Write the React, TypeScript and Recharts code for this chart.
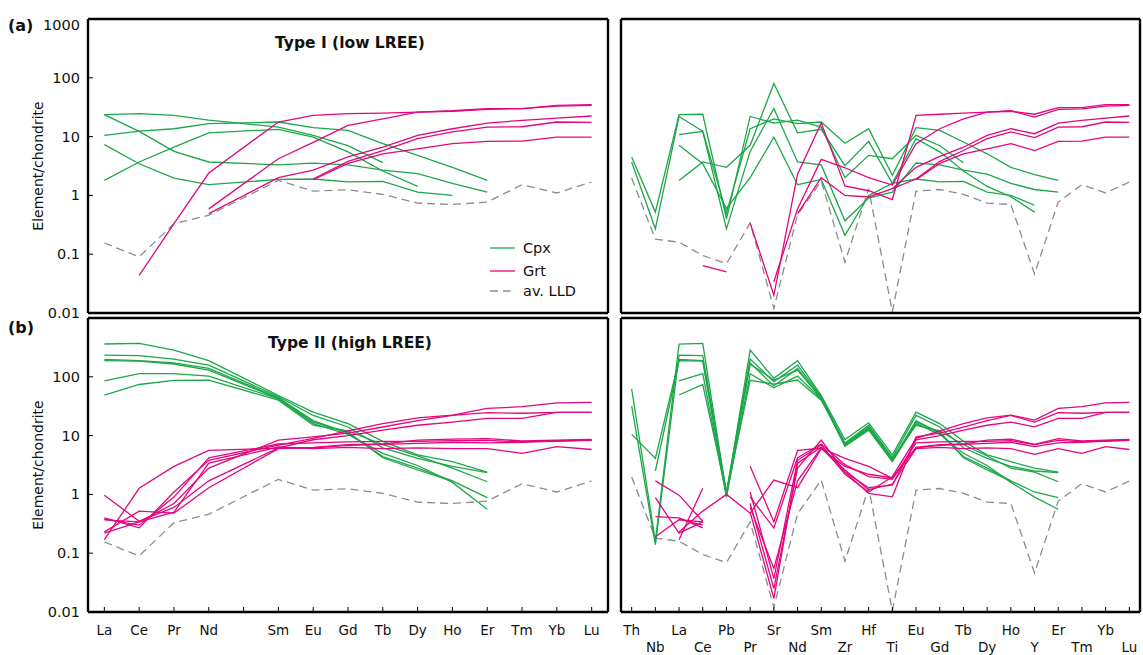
import { LineChart, Line, XAxis, YAxis } from "recharts";

const FONT = '"DejaVu Sans", Verdana, sans-serif';
const GREEN = "#1ca74a";
const PINK = "#e2077e";
const GREY = "#8c8c8c";
const INK = "#111111";

type V = number | null;
type Row = Record<string, V>;

// categories (Pm is left blank on the REE axis)
const reeLabels = ["La", "Ce", "Pr", "Nd", "", "Sm", "Eu", "Gd", "Tb", "Dy", "Ho", "Er", "Tm", "Yb", "Lu"];
const traceLabels = ["Th", "Nb", "La", "Ce", "Pb", "Pr", "Sr", "Nd", "Sm", "Zr", "Hf", "Ti", "Eu", "Gd", "Tb", "Dy", "Ho", "Y", "Er", "Tm", "Yb", "Lu"];
const yTicks = [0.01, 0.1, 1, 10, 100, 1000];

// average LLD, same in every panel
const lldRee: V[] = [0.155, 0.09, 0.33, 0.46, null, 1.8, 1.18, 1.25, 1.04, 0.74, 0.7, 0.77, 1.52, 1.1, 1.69];
const lldTrace: V[] = [1.97, 0.18, 0.16, 0.095, 0.069, 0.34, 0.012, 0.47, 1.75, 0.073, 1.3, 0.0105, 1.18, 1.26, 1.04, 0.74, 0.7, 0.046, 0.77, 1.52, 1.1, 1.69];

// (a) Type I, REE
const cpxReeA: V[][] = [
  [23.6, 24.5, 23, 19, null, 14.5, 10.5, 7.0, 3.6, null, null, null, null, null, null],
  [23.6, 12.3, 5.6, 3.7, null, 3.3, 3.55, 3.3, 2.7, 2.35, 1.6, 1.14, null, null, null],
  [10.5, 12.4, 13.6, 16.6, null, 17.7, 14.2, 12.8, 7.6, 4.8, 3.0, 1.8, null, null, null],
  [7.3, 3.45, 1.97, 1.52, null, 1.87, 1.9, 1.7, 1.73, 1.14, 1.0, null, null, null, null],
  [1.8, 3.7, 6.6, 11.6, null, 13.3, 9.8, 5.5, 2.6, 1.42, null, null, null, null, null],
];
const grtReeA: V[][] = [
  [null, 0.0435, 0.33, 2.4, null, 17.7, 23, 24.5, 25, 26, 27.5, 30, 30, 34, 35],
  [null, null, null, 0.59, null, 4.2, 8, 15.5, 20, 26, 27, 29, 30, 33, 34],
  [null, null, null, 0.49, null, 2.0, 2.7, 4.5, 6.6, 10.5, 13.6, 17, 18.9, 20.6, 22.4],
  [null, null, null, null, null, null, 1.9, 3.8, 5.8, 9.2, 12, 14.5, 14.7, 17.7, 17.5],
  [null, null, null, null, null, null, 1.85, 3.5, 5.1, 6.2, 7.6, 8.3, 8.4, 9.8, 9.8],
];

// (a) Type I, trace elements
const cpxTraceA: V[][] = [
  [4.5, 0.52, 23.6, 24, 0.4, 22, 17, 19, 14.5, 2.0, 4.8, 4.2, 10.5, 7.0, 3.6, null, null, null, null, null, null, null],
  [3.7, 0.27, 22, 12.3, 0.27, 5.6, 30, 3.7, 3.3, 0.37, 0.9, 1.14, 3.55, 3.3, 2.7, 2.3, 1.6, 1.26, 1.14, null, null, null],
  [null, null, 10.8, 12.3, 0.5, 13.6, 20, 16.6, 17.7, 7.7, 13.6, 2.2, 14.2, 12.8, 8.1, 5.1, 3.0, 2.25, 1.8, null, null, null],
  [null, null, 7.1, 3.45, 0.6, 2.0, 9.8, 1.52, 1.87, 0.21, 1.0, 1.6, 1.9, 1.7, 1.73, 1.14, 1.0, 0.68, null, null, null, null],
  [null, null, 1.8, 3.7, 3.0, 7.1, 80, 11.6, 13.3, 3.2, 8.3, 1.6, 9.2, 5.5, 2.6, 1.42, 0.95, 0.52, null, null, null, null],
];
const grtTraceA: V[][] = [
  [null, null, null, 0.064, 0.05, null, null, null, null, null, null, null, null, null, null, null, null, null, null, null, null, null],
  [null, null, null, null, null, 0.34, 0.02, 2.3, 17, 1.45, 1.2, 0.85, 23, 24, 25, 26, 27, 24, 31, 31, 35, 35],
  [null, null, null, null, null, null, 0.034, 0.59, 4.1, 2.95, 2.0, 1.5, 7.6, 13.6, 20, 26, 27.5, 21.5, 29, 29.5, 33, 34],
  [null, null, null, null, null, null, null, 0.49, 2.0, 1.0, 0.94, 1.3, 3.0, 4.6, 6.6, 10.5, 13.6, 11.2, 17, 18.9, 20.6, 22.4],
  [null, null, null, null, null, null, null, null, null, null, null, 1.3, 1.9, 3.8, 5.8, 9.2, 12, 9.6, 14.5, 14.7, 17.7, 17.5],
  [null, null, null, null, null, null, null, null, null, null, null, null, 1.85, 3.5, 5.1, 6.2, 7.6, 5.8, 8.3, 8.4, 9.8, 9.8],
];

// (b) Type II, trace elements (REE panel is taken from these)
const cpxTraceB: V[][] = [
  [62, 0.16, 361, 370, 1.0, 285, 94, 188, 48, 8.6, 16.5, 4.7, 25, 16, 8, 4.7, 3.6, 2.8, 2.4, null, null, null],
  [32, 0.14, 234, 229, 1.1, 200, 83, 158, 46, 7.5, 15, 4.2, 22, 14, 6.2, 4.1, 3.0, 2.5, 2.35, null, null, null],
  [10.5, 4.1, 198, 188, 0.95, 172, 70, 139, 44, 6.8, 13, 3.8, 18, 11, 4.4, 2.8, 1.7, 1.1, 0.88, null, null, null],
  [null, 2.5, 188, 185, 1.0, 165, 88, 130, 43, 7.0, 13.5, 3.7, 17, 11.5, 4.2, 2.6, 1.68, null, null, null, null, null],
  [null, null, 85, 113, 0.9, 113, 65, 103, 42, 6.6, 12.4, 3.6, 16, 10.5, 5, 3.1, 1.6, 0.9, 0.56, null, null, null],
  [null, null, 49, 74, 1.05, 87, 75, 88, 40, 7.2, 14, 4.0, 15, 12, 7, 4.5, 2.8, 2.4, 1.64, null, null, null],
];
const grtTraceB: V[][] = [
  [null, null, 0.17, 1.27, null, 3.0, 0.34, 5.6, 6.1, 4.1, 3.0, 1.87, 6.3, 7.0, 7.2, 8.4, 8.7, 7.1, 8.9, 8.1, 8.4, 8.6],
  [null, 1.7, 0.97, 0.35, null, 0.6, 0.055, 1.7, 6.2, 2.4, 1.3, 1.44, 8.5, 10, 12.4, 15, 17, 14.1, 19.6, 19.6, 24.8, 24.8],
  [null, 0.42, 0.4, 0.27, null, 1.1, 0.037, 3.8, 6.9, 2.2, 1.1, 2.0, 9, 12, 16, 20, 22.3, 18.4, 29, 31, 36, 36.7],
  [null, 0.19, 0.37, 0.34, null, 0.7, 0.025, 2.8, 8.4, 2.4, 1.04, 0.91, 9.5, 11, 14, 18, 22, 17, 24.5, 24, 24.8, 24.8],
  [null, null, 0.23, 0.52, 1.0, 0.48, 1.75, 1.3, 6.0, 3.0, 2.2, 1.9, 6.2, 6.8, 7.1, 7.4, 7.7, 6.5, 7.5, 7.7, 8.2, 8.4],
  [null, 0.88, 0.22, 0.34, null, 0.5, 0.017, 3.4, 6.4, 2.6, 1.2, 1.5, 6.0, 6.3, 6.0, 6.2, 6.0, 4.8, 6.0, 5.0, 6.5, 5.8],
  [null, null, 0.38, 0.3, null, 0.9, 0.27, 4.2, 7.2, 3.2, 2.0, 1.8, 7.5, 7.8, 8.0, 8.0, 8.2, 7.0, 8.3, 7.8, 8.0, 8.3],
];

const toRee = (vals: V[]): V[] =>
  reeLabels.map((l) => (l ? vals[traceLabels.indexOf(l)] ?? null : null));

const frame = { stroke: "#000", strokeWidth: 2.4 };
const tickMark = { stroke: "#000", strokeWidth: 1 };

function XTick(props: any) {
  const { x, y, payload, labels, stagger } = props;
  const i = Math.round(payload.value);
  const dy = stagger && i % 2 === 1 ? 17 : 0;
  return (
    <text x={x} y={y + 10 + dy} textAnchor="middle" fontSize={13.5} fontFamily={FONT} fill={INK}>
      {labels[i]}
    </text>
  );
}

function YTick(props: any) {
  const { x, y, payload, hideTop } = props;
  const v = payload.value;
  if (hideTop && v === 1000) return <g />;
  const shift = v === 1000 ? 6 : 0;
  return (
    <text x={x} y={y + 5 + shift} textAnchor="end" fontSize={14.5} fontFamily={FONT} fill={INK}>
      {String(v)}
    </text>
  );
}

interface PanelProps {
  labels: string[];
  lld: V[];
  cpx: V[][];
  grt: V[][];
  pad: number;
  width: number;
  height: number;
  margin: { top: number; right: number; bottom: number; left: number };
  yLabels: "all" | "noTop" | "none";
  xLabels: boolean;
  stagger: boolean;
  connect: boolean;
}

function Panel(p: PanelProps) {
  const data: Row[] = p.labels.map((_, i) => {
    const row: Row = { x: i, lld: p.lld[i] };
    p.cpx.forEach((s, k) => (row["cpx" + k] = s[i]));
    p.grt.forEach((s, k) => (row["grt" + k] = s[i]));
    return row;
  });
  const xTicks = p.labels.map((_, i) => i);
  const xDomain = [-p.pad, p.labels.length - 1 + p.pad];
  const common = { xAxisId: "b", yAxisId: "l", dot: false, isAnimationActive: false, connectNulls: p.connect };

  return (
    <LineChart width={p.width} height={p.height} data={data} margin={p.margin}>
      <XAxis xAxisId="t" orientation="top" type="number" dataKey="x" domain={xDomain} ticks={xTicks}
        interval={0} allowDataOverflow height={1} tick={false} tickSize={-5} axisLine={frame} tickLine={tickMark} />
      <XAxis xAxisId="b" orientation="bottom" type="number" dataKey="x" domain={xDomain} ticks={xTicks}
        interval={0} allowDataOverflow height={p.xLabels ? 41 : 1} tickSize={-5} tickMargin={18}
        axisLine={frame} tickLine={tickMark}
        tick={p.xLabels ? (t: any) => <XTick {...t} labels={p.labels} stagger={p.stagger} /> : false} />
      <YAxis yAxisId="l" orientation="left" type="number" scale="log" domain={[0.01, 1000]} ticks={yTicks}
        interval={0} allowDataOverflow width={p.yLabels === "none" ? 1 : 88} tickSize={-5} tickMargin={13}
        axisLine={frame} tickLine={tickMark}
        tick={p.yLabels === "none" ? false : (t: any) => <YTick {...t} hideTop={p.yLabels === "noTop"} />} />
      <YAxis yAxisId="r" orientation="right" type="number" scale="log" domain={[0.01, 1000]} ticks={yTicks}
        interval={0} allowDataOverflow width={1} tick={false} tickSize={-5} axisLine={frame} tickLine={tickMark} />
      <Line {...common} dataKey="lld" stroke={GREY} strokeWidth={1.3} strokeDasharray="8 5" />
      {p.cpx.map((_, k) => (
        <Line key={"c" + k} {...common} dataKey={"cpx" + k} stroke={GREEN} strokeWidth={1.3} />
      ))}
      {p.grt.map((_, k) => (
        <Line key={"g" + k} {...common} dataKey={"grt" + k} stroke={PINK} strokeWidth={1.3} />
      ))}
    </LineChart>
  );
}

export default function App() {
  const leftTop = { top: 18, right: 3, bottom: 8, left: 0 };
  const rightTop = { top: 18, right: 2, bottom: 8, left: 7 };
  const leftBot = { top: 17, right: 3, bottom: 2, left: 0 };
  const rightBot = { top: 17, right: 2, bottom: 2, left: 7 };

  return (
    <div style={{ position: "absolute", left: 0, top: 0, width: 1143, height: 655, background: "#fff", fontFamily: FONT }}>
      <div style={{ position: "absolute", left: 0, top: 0 }}>
        <Panel labels={reeLabels} lld={lldRee} cpx={cpxReeA} grt={grtReeA} pad={0.47} width={612} height={322}
          margin={leftTop} yLabels="all" xLabels={false} stagger={false} connect />
      </div>
      <div style={{ position: "absolute", left: 613, top: 0 }}>
        <Panel labels={traceLabels} lld={lldTrace} cpx={cpxTraceA} grt={grtTraceA} pad={0.45} width={530} height={322}
          margin={rightTop} yLabels="none" xLabels={false} stagger={false} connect={false} />
      </div>
      <div style={{ position: "absolute", left: 0, top: 300 }}>
        <Panel labels={reeLabels} lld={lldRee} cpx={cpxTraceB.map(toRee)} grt={grtTraceB.map(toRee)} pad={0.47}
          width={612} height={355} margin={leftBot} yLabels="noTop" xLabels stagger={false} connect />
      </div>
      <div style={{ position: "absolute", left: 613, top: 300 }}>
        <Panel labels={traceLabels} lld={lldTrace} cpx={cpxTraceB} grt={grtTraceB} pad={0.45} width={530} height={355}
          margin={rightBot} yLabels="none" xLabels stagger connect={false} />
      </div>

      <svg width={1143} height={655} style={{ position: "absolute", left: 0, top: 0, pointerEvents: "none" }}
        fontFamily={FONT} fill={INK}>
        <text x={8} y={31} fontSize={16} fontWeight="bold">(a)</text>
        <text x={8} y={333} fontSize={16} fontWeight="bold">(b)</text>
        <text x={350} y={48} textAnchor="middle" fontSize={15.5} fontWeight="bold">Type I (low LREE)</text>
        <text x={350} y={348} textAnchor="middle" fontSize={15.5} fontWeight="bold">Type II (high LREE)</text>
        <text transform="translate(43,166) rotate(-90)" textAnchor="middle" fontSize={14}>Element/chondrite</text>
        <text transform="translate(43,465) rotate(-90)" textAnchor="middle" fontSize={14}>Element/chondrite</text>

        <line x1={490} x2={515} y1={248} y2={248} stroke={GREEN} strokeWidth={1.3} />
        <text x={523} y={253} fontSize={14.5}>Cpx</text>
        <line x1={490} x2={515} y1={271} y2={271} stroke={PINK} strokeWidth={1.3} />
        <text x={523} y={276} fontSize={14.5}>Grt</text>
        <line x1={490} x2={515} y1={291} y2={291} stroke={GREY} strokeWidth={1.3} strokeDasharray="8 5" />
        <text x={523} y={296} fontSize={14.5}>av. LLD</text>
      </svg>
    </div>
  );
}
